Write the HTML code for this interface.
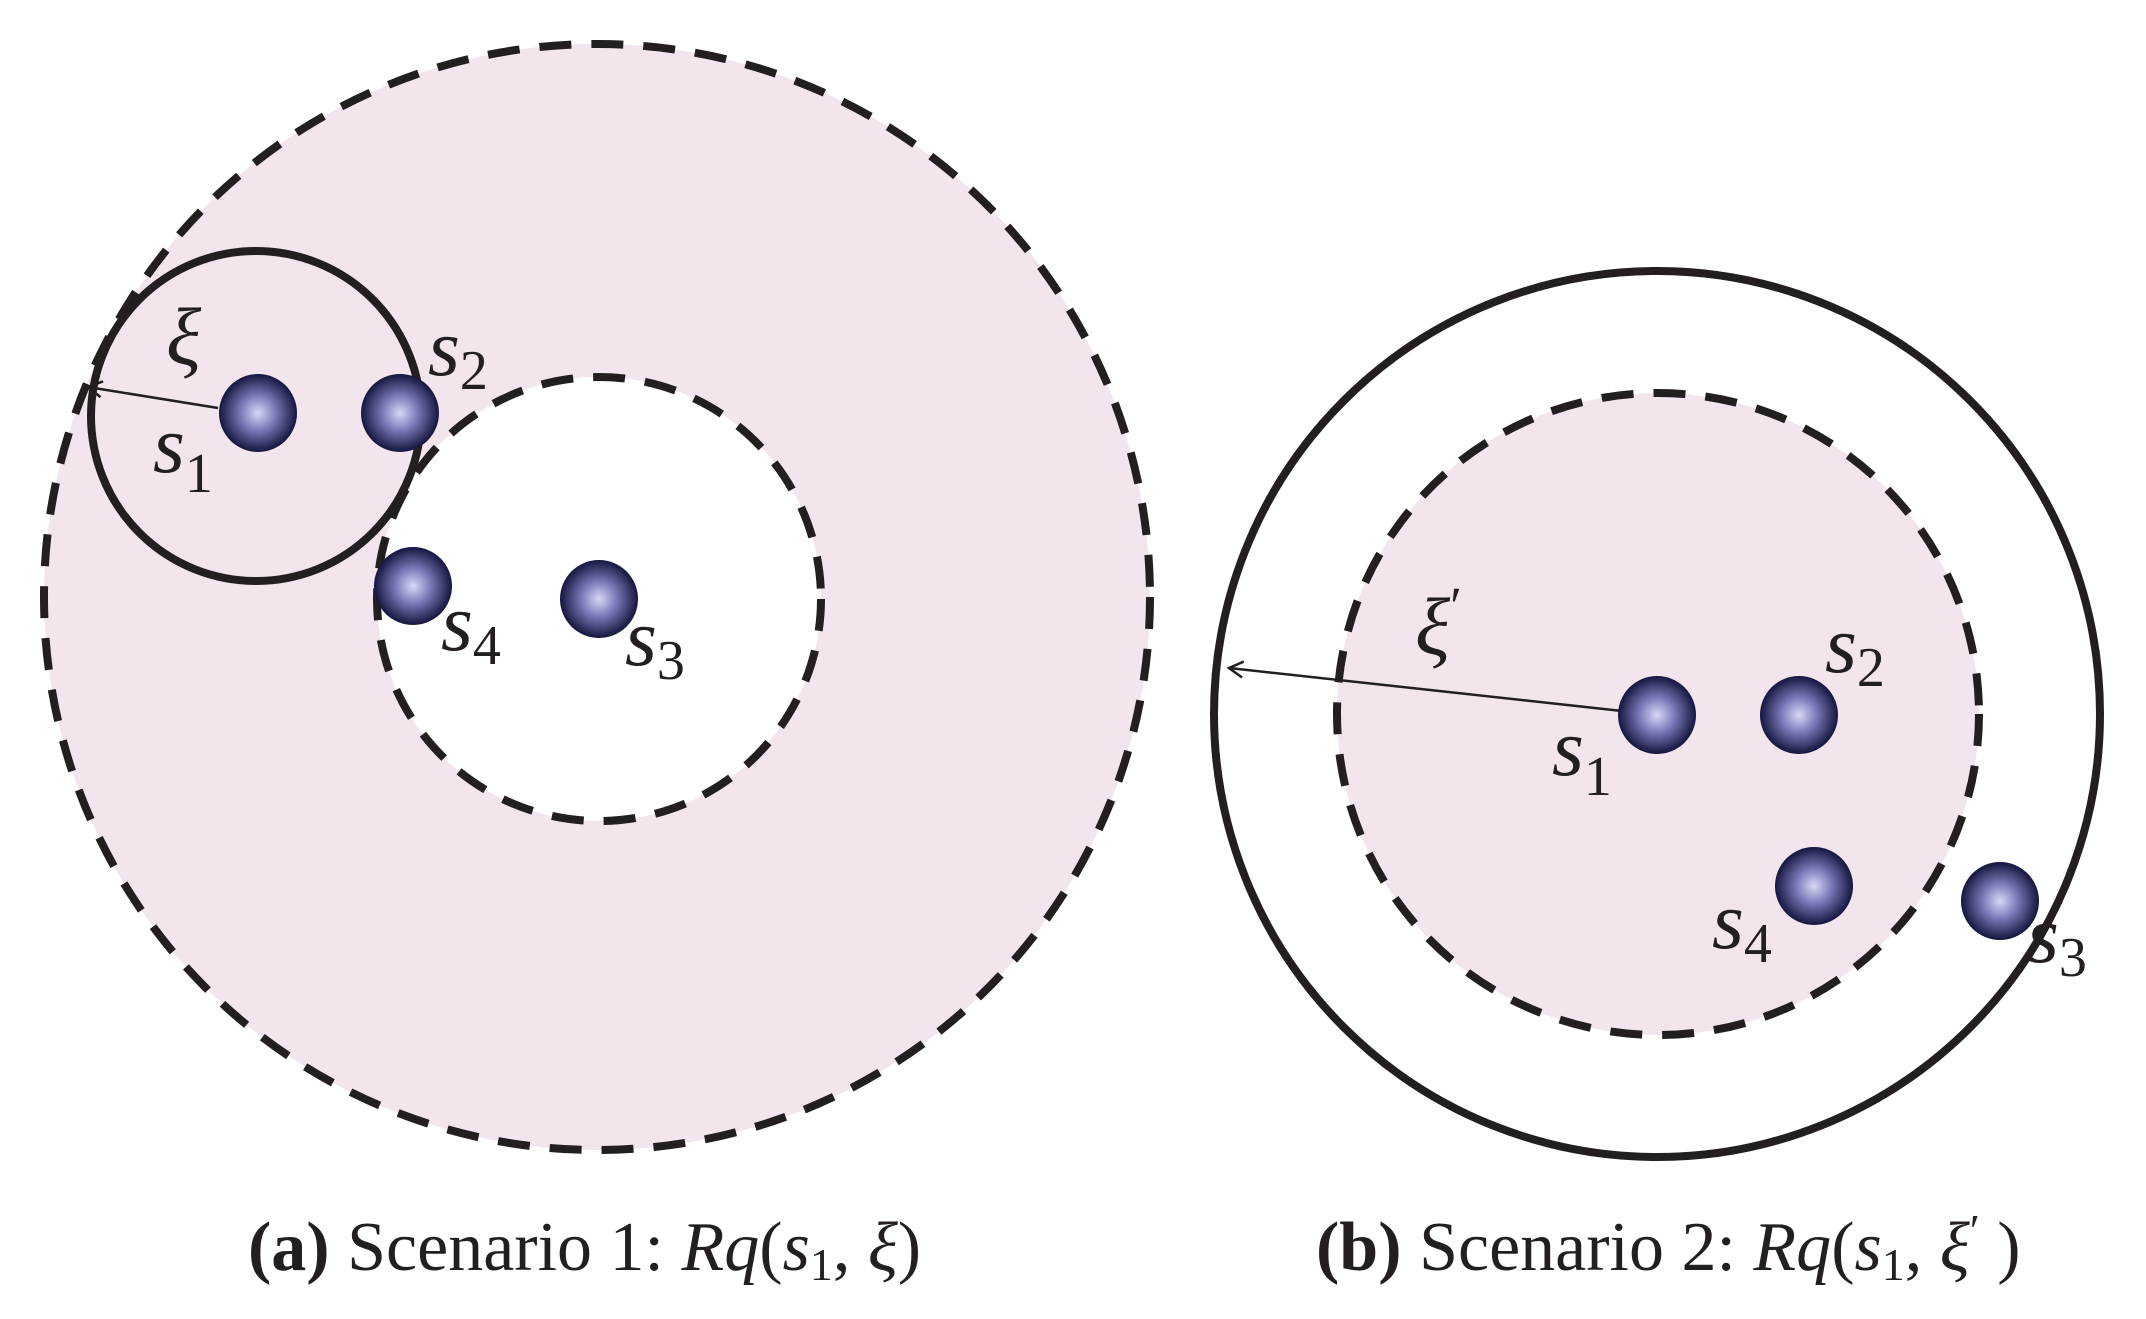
<!DOCTYPE html>
<html><head><meta charset="utf-8"><style>
html,body{margin:0;padding:0;background:#fff;}
svg{display:block;}
text{font-family:"Liberation Serif",serif;fill:#231f20;}
.m{font-style:italic;font-size:82px;}
.cap{font-size:70px;}
</style></head><body>
<svg width="2146" height="1319" viewBox="0 0 2146 1319" xmlns="http://www.w3.org/2000/svg">
<defs>
<radialGradient id="g" cx="50%" cy="50%" r="50%">
<stop offset="0" stop-color="#d8d8f8"/>
<stop offset="0.45" stop-color="#7a7ab8"/>
<stop offset="1" stop-color="#15153f"/>
</radialGradient>
<marker id="ar" markerWidth="22" markerHeight="22" refX="18" refY="10" orient="auto" markerUnits="userSpaceOnUse">
<path d="M4,2 L18,10 L4,18" fill="none" stroke="#231f20" stroke-width="2.5"/>
</marker>
</defs>
<!-- Left -->
<circle cx="597" cy="597" r="553" fill="#f2e5ee" stroke="#231f20" stroke-width="8" stroke-dasharray="32 20"/>
<circle cx="599" cy="599" r="222" fill="#fff" stroke="#231f20" stroke-width="8" stroke-dasharray="32 20"/>
<circle cx="256" cy="416" r="165" fill="none" stroke="#231f20" stroke-width="8"/>
<line x1="218" y1="408" x2="88" y2="387" stroke="#231f20" stroke-width="2.5" marker-end="url(#ar)"/>
<circle cx="258" cy="413" r="39" fill="url(#g)"/>
<circle cx="400" cy="413" r="39" fill="url(#g)"/>
<circle cx="413" cy="586" r="39" fill="url(#g)"/>
<circle cx="599" cy="599" r="39" fill="url(#g)"/>
<text class="m" x="166" y="364">ξ</text>
<text class="m" x="428" y="375">s<tspan font-size="56" font-style="normal" dy="14">2</tspan></text>
<text class="m" x="153" y="472">s<tspan font-size="56" font-style="normal" dy="20">1</tspan></text>
<text class="m" x="441" y="650">s<tspan font-size="56" font-style="normal" dy="14">4</tspan></text>
<text class="m" x="625" y="665">s<tspan font-size="56" font-style="normal" dy="14">3</tspan></text>
<text class="cap" x="248" y="1270"><tspan font-weight="bold">(a)</tspan> Scenario 1: <tspan font-style="italic">Rq</tspan>(<tspan font-style="italic">s</tspan><tspan font-size="46" dy="10">1</tspan><tspan dy="-10">, </tspan><tspan font-style="italic">ξ</tspan>)</text>
<!-- Right -->
<g transform="translate(-11,0)">
<circle cx="1668" cy="714" r="443" fill="none" stroke="#231f20" stroke-width="8"/>
<circle cx="1669" cy="714" r="321" fill="#f2e5ee" stroke="#231f20" stroke-width="8" stroke-dasharray="32 20"/>
<line x1="1633" y1="711" x2="1240" y2="668" stroke="#231f20" stroke-width="2.5" marker-end="url(#ar)"/>
<circle cx="1668" cy="715" r="39" fill="url(#g)"/>
<circle cx="1810" cy="715" r="39" fill="url(#g)"/>
<circle cx="1825" cy="886" r="39" fill="url(#g)"/>
<circle cx="2011" cy="901" r="39" fill="url(#g)"/>
<text class="m" x="1426" y="654">ξ<tspan font-size="54" font-style="normal" dy="-30">′</tspan></text>
<text class="m" x="1836" y="672">s<tspan font-size="56" font-style="normal" dy="14">2</tspan></text>
<text class="m" x="1563" y="775">s<tspan font-size="56" font-style="normal" dy="20">1</tspan></text>
<text class="m" x="1723" y="948">s<tspan font-size="56" font-style="normal" dy="14">4</tspan></text>
<text class="m" x="2038" y="962">s<tspan font-size="56" font-style="normal" dy="14">3</tspan></text>
</g>
<text class="cap" x="1316" y="1270"><tspan font-weight="bold">(b)</tspan> Scenario 2: <tspan font-style="italic">Rq</tspan>(<tspan font-style="italic">s</tspan><tspan font-size="46" dy="10">1</tspan><tspan dy="-10">, </tspan><tspan font-style="italic">ξ</tspan><tspan font-size="46" dy="-24">′</tspan><tspan dy="24"> )</tspan></text>
</svg>
</body></html>
